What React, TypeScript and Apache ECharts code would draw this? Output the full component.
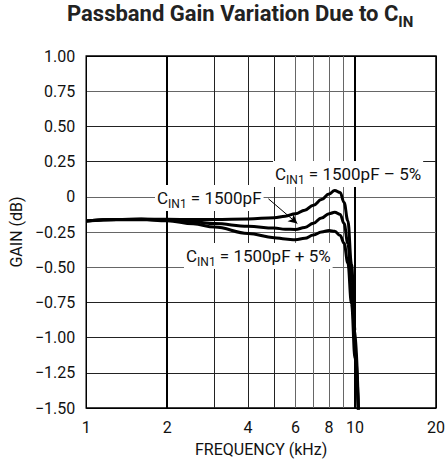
import React, { useEffect, useRef } from "react";
import * as echarts from "echarts";

const FREQ_KHZ = [1, 1.3, 1.6, 2, 2.5, 3, 4, 5, 5.5, 6, 6.5, 7, 7.5, 8, 8.4, 8.8, 9.1, 9.4, 9.7, 10, 10.3];
const GAIN_MINUS5 = [-0.172, -0.162, -0.158, -0.16, -0.162, -0.162, -0.157, -0.148, -0.138, -0.12, -0.095, -0.06, -0.02, 0.02, 0.045, 0.03, -0.04, -0.17, -0.48, -0.95, -1.55];
const GAIN_NOMINAL = [-0.172, -0.162, -0.16, -0.166, -0.178, -0.19, -0.21, -0.222, -0.23, -0.232, -0.218, -0.188, -0.15, -0.12, -0.11, -0.125, -0.19, -0.33, -0.62, -1.05, -1.55];
const GAIN_PLUS5 = [-0.172, -0.163, -0.162, -0.17, -0.192, -0.215, -0.26, -0.29, -0.3, -0.305, -0.295, -0.272, -0.25, -0.24, -0.245, -0.275, -0.33, -0.47, -0.76, -1.15, -1.55];

const X_GRID_KHZ = [1, 2, 3, 4, 5, 6, 7, 8, 9, 10, 20];
const X_LABEL_KHZ = [1, 2, 4, 6, 8, 10, 20];
const X_MIN_KHZ = 1;
const X_MAX_KHZ = 20;
const Y_MIN = -1.5;
const Y_MAX = 1.0;
const Y_STEP = 0.25;

const ARROW_FROM = [4.76, -0.014];
const ARROW_TO = [6.1, -0.19];

const FONT = "Roboto, 'Liberation Sans', sans-serif";

const lg = (v: number) => Math.log10(v);
const toPts = (f: number[], g: number[]) => f.map((x, i) => [lg(x), g[i]]);

export default function App() {
  const ref = useRef<HTMLDivElement>(null);
  useEffect(() => {
    document.body.style.margin = "0";
    if (!ref.current) return;
    const chart = echarts.init(ref.current, null, { renderer: "svg" });
    const curveStyle = { color: "#000", width: 3 };
    const annot = (left: number, y: number, rest: string) => ({
      type: "text",
      left,
      top: y - 12,
      z: 10,
      style: {
        text: `{c|C}{s|IN1}{c| = ${rest}}`,
        backgroundColor: "#fff",
        padding: [1, 2, 1, 2],
        rich: {
          c: { fontFamily: FONT, fontSize: 17, lineHeight: 24, fill: "#111" },
          s: { fontFamily: FONT, fontSize: 12, lineHeight: 12, verticalAlign: "bottom", fill: "#111" },
        },
      },
    });
    chart.setOption({
      animation: false,
      backgroundColor: "#fff",
      grid: { left: 85, right: 12, top: 56, bottom: 56, show: true, borderColor: "#000", borderWidth: 1.5, backgroundColor: "transparent" },
      xAxis: {
        type: "value",
        min: lg(X_MIN_KHZ),
        max: lg(X_MAX_KHZ),
        name: "FREQUENCY (kHz)",
        nameLocation: "middle",
        nameGap: 33,
        nameTextStyle: { fontFamily: FONT, fontSize: 16, color: "#111" },
        axisLine: { show: false },
        axisTick: { show: false, customValues: X_GRID_KHZ.map(lg) },
        axisLabel: {
          customValues: X_LABEL_KHZ.map(lg),
          formatter: (v: number) => String(Math.round(Math.pow(10, v))),
          fontFamily: FONT,
          fontSize: 16,
          color: "#111",
          margin: 11,
        },
        splitLine: {
          show: true,
          lineStyle: { width: 1, color: ["#000", "#000", "#222", "#222", "#222", "#666", "#666", "#666", "#666", "#000", "#000"] },
        },
      },
      yAxis: {
        type: "value",
        min: Y_MIN,
        max: Y_MAX,
        interval: Y_STEP,
        name: "GAIN (dB)",
        nameLocation: "middle",
        nameGap: 60,
        nameTextStyle: { fontFamily: FONT, fontSize: 16, color: "#111" },
        axisLine: { show: false },
        axisTick: { show: false },
        axisLabel: {
          fontFamily: FONT,
          fontSize: 16,
          color: "#111",
          margin: 11,
          formatter: (v: number) => (Math.abs(v) < 1e-9 ? "0" : v < 0 ? "\u2212" + Math.abs(v).toFixed(2) : v.toFixed(2)),
        },
        splitLine: {
          show: true,
          lineStyle: { width: 1, color: ["#000", "#222", "#222", "#222", "#666", "#666", "#666", "#222", "#222", "#666", "#000"] },
        },
      },
      series: [
        {
          type: "line",
          data: toPts(FREQ_KHZ, GAIN_MINUS5),
          showSymbol: false,
          smooth: 0.4,
          smoothMonotone: "x",
          lineStyle: curveStyle,
          z: 3,
          markLine: {
            silent: true,
            symbol: ["none", "none"],
            label: { show: false },
            lineStyle: { color: "#000", width: 2, type: "solid" },
            data: [{ xAxis: lg(2) }, { xAxis: lg(10) }],
          },
        },
        {
          type: "line",
          data: toPts(FREQ_KHZ, GAIN_NOMINAL),
          showSymbol: false,
          smooth: 0.4,
          smoothMonotone: "x",
          lineStyle: curveStyle,
          z: 3,
          markLine: {
            silent: true,
            symbol: ["none", "arrow"],
            symbolSize: [7, 9],
            label: { show: false },
            lineStyle: { color: "#000", width: 1, type: "solid" },
            data: [[{ coord: [lg(ARROW_FROM[0]), ARROW_FROM[1]] }, { coord: [lg(ARROW_TO[0]), ARROW_TO[1]] }]],
          },
        },
        {
          type: "line",
          data: toPts(FREQ_KHZ, GAIN_PLUS5),
          showSymbol: false,
          smooth: 0.4,
          smoothMonotone: "x",
          lineStyle: curveStyle,
          z: 3,
        },
      ],
      graphic: [
        {
          type: "text",
          left: 67,
          top: 2,
          z: 10,
          style: {
            text: "{t|Passband Gain Variation Due to C}{s|IN}",
            rich: {
              t: { fontFamily: FONT, fontWeight: "bold", fontSize: 22, lineHeight: 32, fill: "#222" },
              s: { fontFamily: FONT, fontWeight: "bold", fontSize: 15, lineHeight: 15, verticalAlign: "bottom", fill: "#222" },
            },
          },
        },
        annot(273, 173, "1500pF \u2013 5%"),
        annot(155, 197, "1500pF"),
        annot(184, 255, "1500pF + 5%"),
      ],
    });
    return () => chart.dispose();
  }, []);
  return <div ref={ref} style={{ width: 448, height: 464 }} />;
}
